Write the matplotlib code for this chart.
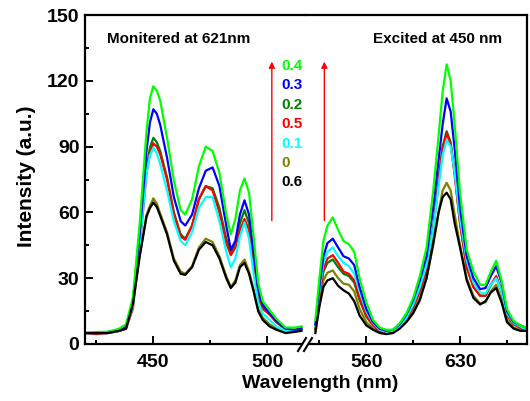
import numpy as np
import matplotlib
matplotlib.use('Agg')
import matplotlib.pyplot as plt
from matplotlib.lines import Line2D

plt.rcParams['font.family'] = ['Liberation Sans', 'DejaVu Sans']
plt.rcParams['font.weight'] = 'bold'

# excitation spectra (monitored at 621 nm)
wl_exc = [420, 425, 430, 435, 438, 441, 444, 447, 448.5, 450, 451.5, 453, 456, 459, 462, 464, 467,
          470, 473, 476, 479, 482, 484, 486, 488, 490, 492, 494, 496, 498, 501, 504, 508, 512, 515]
exc_04 = [5, 5.5, 5.5, 7, 9, 21, 55, 97, 112, 117.5, 115.5, 111, 94, 74.5, 61, 59, 66,
          81, 90, 88, 78, 59, 50, 57, 70, 75.5, 69, 49, 28, 19.5, 15.5, 11.5, 7.5, 7.5, 8]
exc_03 = [5, 5, 5.5, 6.5, 8, 19, 50, 88, 101, 107, 105, 100, 85, 67, 56, 54, 59,
          71, 79, 80.5, 72, 54, 43, 47, 59, 65.5, 59, 42, 25, 18, 14, 10.5, 7, 6.5, 7]
exc_02 = [5, 5, 5, 6, 7.5, 18, 47, 80, 89.5, 94, 92, 88, 76, 60, 50, 48, 54,
          66, 72, 71, 62, 48, 41.5, 45, 55, 61, 55, 39, 23, 17, 13.5, 10, 6.5, 6, 7]
exc_05 = [5, 4.5, 5, 6, 7, 16, 44, 78, 87, 91.5, 90, 86.5, 75, 59.5, 49, 47.5, 54,
          66, 72, 70, 60, 46, 40.5, 44, 52, 57, 52, 36, 21, 16, 13.5, 10, 7, 6, 6.5]
exc_01 = [5, 5, 5, 6, 7.5, 17, 45, 78, 86, 89.5, 87, 82, 70, 56, 47, 45, 51,
          62, 67, 67, 56, 42, 35, 39, 49, 55.5, 48, 32, 19, 14, 11, 8, 6, 6, 6.5]
exc_00 = [5, 5, 5, 6, 7, 18, 40, 59, 63, 66.4, 64, 59.5, 51, 39, 33, 32, 35.5,
          44, 48, 46.5, 40, 31, 26, 29, 36, 38.5, 33, 25, 16, 12, 9, 7, 5.5, 6, 8]
exc_06 = [5, 5, 5, 6, 7, 18, 40, 58, 62, 64.5, 62.5, 58.5, 50, 38, 32, 31.5, 35,
          43, 46.5, 45, 39, 30, 25.5, 28, 35, 37, 32, 24, 15, 11, 8, 6.5, 5, 5.5, 6]

# emission spectra (excited at 450 nm)
wl_em = [522, 525, 528, 531, 535, 539, 543, 547, 551, 555, 560, 565, 570, 575, 580, 585, 590, 595,
         600, 605, 610, 614, 617, 620, 623, 626, 630, 635, 640, 645, 649, 653, 657, 661, 665, 670,
         675, 679]
em_04 = [11, 30, 47, 54, 57.7, 52, 47, 45.5, 42, 30, 19, 11, 7.5, 6.5, 6.5, 9.5, 14, 21,
         31, 44, 70, 95, 115, 127.5, 120, 100, 69, 43, 33, 27, 27, 33, 38, 29, 16, 10.5,
         8.5, 7.5]
em_03 = [9, 26, 40, 46, 48, 44, 40, 39, 36, 26, 16, 10, 7, 6, 6.5, 9, 13.5, 20,
         29, 40, 62, 84, 100, 112, 106, 89, 62, 40, 30, 25, 25.5, 31, 35.5, 28, 15, 10,
         8.5, 7.5]
em_02 = [7, 22, 33, 37, 38.5, 35, 32, 31, 28, 20, 12.5, 8.5, 6, 5, 5.5, 7.5, 11, 17,
         24, 34, 53, 75, 90, 97, 92, 78, 55, 35, 26, 22, 22, 27, 30.5, 24, 13, 9,
         7.5, 6.5]
em_05 = [7, 22, 34, 39, 40.5, 37, 33, 32, 29, 21, 13, 8.5, 6, 5, 5.5, 7.5, 11, 17,
         24, 34, 52, 74, 89, 96, 91, 77, 55, 35, 26, 22, 22, 27, 31, 24, 13, 9,
         7.5, 6.5]
em_01 = [8, 24, 37, 42, 44, 40, 37, 35.5, 32, 24, 15, 9.5, 6.5, 5.5, 6, 8, 12, 18,
         26, 36, 52, 72, 86, 93, 90, 78, 57, 38, 28, 23.5, 23, 27, 30, 24, 14, 9.5,
         8, 6.5]
em_00 = [6, 20, 29, 32.5, 33.5, 30, 27.5, 27, 24, 16, 10, 7, 5.5, 5, 5.5, 7.5, 10.5, 15,
         21, 30, 45, 60, 70, 73.5, 70, 59, 45, 30, 22, 18.5, 19, 24, 27, 20, 11, 7.5,
         6.5, 6]
em_06 = [5, 17, 26, 29, 30, 26.5, 24.5, 23, 19.5, 13, 8.5, 6.5, 5, 4.5, 5, 7, 10, 14,
         20, 30, 46, 60, 67, 69, 66, 55, 44, 29, 21, 18, 19.5, 23.5, 25.5, 19, 10, 7,
         6, 6]

labels = ['0.4', '0.3', '0.2', '0.5', '0.1', '0', '0.6']
colors = ['#00ff00', '#0000ff', '#008000', '#ff0000', '#00ffff', '#808000', '#000000']
exc = [exc_04, exc_03, exc_02, exc_05, exc_01, exc_00, exc_06]
em = [em_04, em_03, em_02, em_05, em_01, em_00, em_06]
draw_order = [5, 2, 3, 4, 1, 0, 6]

W, H = 530, 401
fig = plt.figure(figsize=(W / 100, H / 100), dpi=100)
x0, xb, x1 = 85, 306, 527
y_top, y_bot = 15, 344
bottom = 1 - y_bot / H
height = (y_bot - y_top) / H
ax1 = fig.add_axes([x0 / W, bottom, (xb - x0) / W, height])
ax2 = fig.add_axes([xb / W, bottom, (x1 - xb) / W, height])

for i in draw_order:
    ax1.plot(wl_exc, exc[i], color=colors[i], lw=1.6)
    ax2.plot(wl_em, em[i], color=colors[i], lw=1.6)

ax1.set_xlim(420, 517)
ax2.set_xlim(515, 680)
for ax in (ax1, ax2):
    ax.set_ylim(0, 150)
    for s in ax.spines.values():
        s.set_linewidth(1.6)
ax1.spines['right'].set_visible(False)
ax2.spines['left'].set_visible(False)
ax1.spines['bottom'].set_bounds(420, 515.2)
ax2.spines['bottom'].set_bounds(518, 680)

ax1.set_xticks([450, 500])
ax1.set_xticks([425, 475], minor=True)
ax2.set_xticks([560, 630])
ax2.set_xticks([525, 595, 665], minor=True)
ax1.set_yticks(np.arange(0, 151, 30))
ax1.set_yticks(np.arange(15, 150, 30), minor=True)
ax2.set_yticks([])

for ax in (ax1, ax2):
    ax.tick_params(which='major', direction='in', length=6, width=1.4, labelsize=14)
    ax.tick_params(which='minor', direction='in', length=3, width=1.4)
    ax.tick_params(axis='x', pad=7)
    ax.tick_params(axis='y', pad=4)
    ax.tick_params(top=False, right=False)
    for lab in ax.get_xticklabels() + ax.get_yticklabels():
        lab.set_fontweight('bold')

# red arrows over the two sets of curves
ax1.annotate('', xy=(502, 130), xytext=(502, 55),
             arrowprops=dict(arrowstyle='-|>', color='red', lw=1.0, mutation_scale=9))
ax2.annotate('', xy=(528.7, 130), xytext=(528.7, 55),
             arrowprops=dict(arrowstyle='-|>', color='red', lw=1.0, mutation_scale=9))

for i, (lab, c) in enumerate(zip(labels, colors)):
    ax1.text(506.4, (344 - (65 + i * 19.5)) / 2.2, lab, color=c, fontsize=11,
             fontweight='bold', va='center', ha='left')

ax1.text(429.6, 139, 'Monitered at 621nm', fontsize=11, fontweight='bold', va='center')
ax2.text(565, 139, 'Excited at 450 nm', fontsize=11, fontweight='bold', va='center')

# axis break marks
for dx in (0, 6):
    fig.add_artist(Line2D([(298 + dx) / W, (306 + dx) / W], [1 - 351 / H, 1 - 338 / H],
                          color='black', lw=1.5))

fig.text(320 / W, 1 - 383 / H, 'Wavelength (nm)', ha='center', va='center',
         fontsize=14, fontweight='bold')
fig.text(26 / W, 1 - 176 / H, 'Intensity (a.u.)', ha='center', va='center',
         rotation=90, fontsize=15, fontweight='bold')

fig.savefig('out.png', dpi=100)
